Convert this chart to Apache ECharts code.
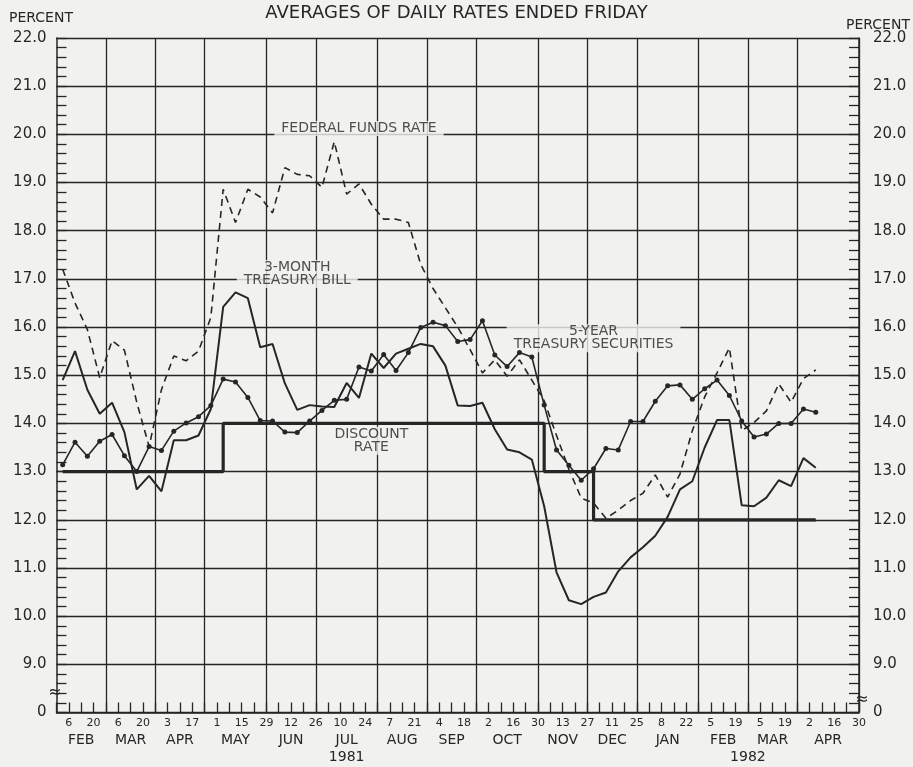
<!DOCTYPE html>
<html>
<head>
<meta charset="utf-8">
<title>Averages of daily rates ended Friday</title>
<script src="https://cdn.jsdelivr.net/npm/echarts@6/dist/echarts.min.js"></script>
<style>
html,body{margin:0;padding:0;background:#f1f1ef;}
#chart{width:913px;height:767px;}
</style>
</head>
<body>
<div id="chart"></div>
<script>
// one slot per week, named by the Friday that ends it
var weeks = [
    '1981-02-06','1981-02-13','1981-02-20','1981-02-27',
    '1981-03-06','1981-03-13','1981-03-20','1981-03-27',
    '1981-04-03','1981-04-10','1981-04-17','1981-04-24',
    '1981-05-01','1981-05-08','1981-05-15','1981-05-22','1981-05-29',
    '1981-06-05','1981-06-12','1981-06-19','1981-06-26',
    '1981-07-03','1981-07-10','1981-07-17','1981-07-24','1981-07-31',
    '1981-08-07','1981-08-14','1981-08-21','1981-08-28',
    '1981-09-04','1981-09-11','1981-09-18','1981-09-25',
    '1981-10-02','1981-10-09','1981-10-16','1981-10-23','1981-10-30',
    '1981-11-06','1981-11-13','1981-11-20','1981-11-27',
    '1981-12-04','1981-12-11','1981-12-18','1981-12-25',
    '1982-01-01','1982-01-08','1982-01-15','1982-01-22','1982-01-29',
    '1982-02-05','1982-02-12','1982-02-19','1982-02-26',
    '1982-03-05','1982-03-12','1982-03-19','1982-03-26',
    '1982-04-02','1982-04-09','1982-04-16','1982-04-23','1982-04-30'
];
// tick marks sit on the Fridays between the weekly slots
var fridays = ['1981-01-30'].concat(weeks);

var fedFunds = [17.2, 16.5, 15.95, 14.95, 15.72, 15.52, 14.44, 13.52, 14.7, 15.4,
    15.3, 15.5, 16.2, 18.86, 18.17, 18.86, 18.7, 18.37, 19.31, 19.17,
    19.14, 18.9, 19.85, 18.76, 18.97, 18.55, 18.24, 18.24, 18.17, 17.3,
    16.8, 16.4, 16.0, 15.53, 15.05, 15.32, 14.98, 15.32, 14.9, 14.47,
    13.75, 13.05, 12.45, 12.35, 12.03, 12.2, 12.4, 12.55, 12.93, 12.47,
    12.95, 13.85, 14.55, 15.05, 15.57, 13.85, 14.02, 14.26, 14.82, 14.44,
    14.93, 15.11];
var billRate = [14.9, 15.5, 14.7, 14.2, 14.43, 13.82, 12.63, 12.91, 12.59, 13.65,
    13.65, 13.75, 14.3, 16.42, 16.72, 16.6, 15.58, 15.65, 14.83, 14.28,
    14.38, 14.35, 14.34, 14.84, 14.53, 15.45, 15.15, 15.45, 15.55, 15.65,
    15.6, 15.2, 14.37, 14.36, 14.43, 13.88, 13.46, 13.4, 13.25, 12.28,
    10.91, 10.33, 10.25, 10.4, 10.49, 10.93, 11.22, 11.43, 11.67, 12.06,
    12.63, 12.8, 13.5, 14.07, 14.07, 12.3, 12.28, 12.46, 12.82, 12.7,
    13.28, 13.08];
var fiveYear = [13.14, 13.61, 13.32, 13.63, 13.77, 13.33, 13.0, 13.52, 13.44, 13.84,
    14.01, 14.14, 14.37, 14.92, 14.86, 14.54, 14.06, 14.05, 13.82, 13.81,
    14.05, 14.27, 14.48, 14.5, 15.17, 15.09, 15.43, 15.1, 15.47, 15.99,
    16.1, 16.03, 15.7, 15.74, 16.13, 15.42, 15.18, 15.47, 15.38, 14.38,
    13.45, 13.13, 12.82, 13.06, 13.48, 13.45, 14.04, 14.04, 14.46, 14.78,
    14.8, 14.5, 14.72, 14.9, 14.58, 14.05, 13.72, 13.78, 14.0, 14.0,
    14.3, 14.23];
var discountRate = [13, 13, 13, 13, 13, 13, 13, 13, 13, 13,
    13, 13, 13, 14, 14, 14, 14, 14, 14, 14,
    14, 14, 14, 14, 14, 14, 14, 14, 14, 14,
    14, 14, 14, 14, 14, 14, 14, 14, 14, 13,
    13, 13, 13, 12, 12, 12, 12, 12, 12, 12,
    12, 12, 12, 12, 12, 12, 12, 12, 12, 12,
    12, 12];

var monthNames = ['JAN','FEB','MAR','APR','MAY','JUN','JUL','AUG','SEP','OCT','NOV','DEC'];
// year under the middle of July 1981, and on the Feb/Mar 1982 line
var year1981 = '1981-07-17';
var year1982 = '1982-03-05';

// text notes: [text, week slot, percent]
var notes = [
    ['FEDERAL FUNDS RATE', 24, 20.12],
    ['3-MONTH\nTREASURY BILL', 19, 17.1],
    ['DISCOUNT\nRATE', 25, 13.64],
    ['5-YEAR\nTREASURY SECURITIES', 43, 15.77]
];

var ink = '#262626';
var paper = '#f1f1ef';
var font = 'DejaVu Sans';

function monthOf(d) { return d.slice(0, 7); }

// month names sit centred between the month gridlines:
// 4-week months on a Friday tick, 5-week months on the middle week
var tickLabels = {}, weekLabels = {};
var start = 0;
for (var i = 1; i <= weeks.length; i++) {
    if (i === weeks.length || monthOf(weeks[i]) !== monthOf(weeks[start])) {
        var n = i - start;
        var name = monthNames[+weeks[start].slice(5, 7) - 1];
        if (n % 2) weekLabels[start + (n - 1) / 2] = name;
        else tickLabels[start + n / 2] = name;
        start = i;
    }
}

function rateLabel(v) {
    return v === 8 ? '0' : v.toFixed(1);
}

function labelAxis(data, gap, offset, show, text, size) {
    return {
        type: 'category',
        data: data,
        boundaryGap: gap,
        position: 'bottom',
        offset: offset,
        axisLine: {show: false, onZero: false},
        axisTick: {show: false},
        splitLine: {show: false},
        axisLabel: {
            interval: show,
            formatter: text,
            hideOverlap: false,
            margin: 5,
            fontFamily: font,
            fontSize: size,
            color: ink
        }
    };
}

function rateAxis(side, margin) {
    return {
        type: 'value',
        position: side,
        min: 8,
        max: 22,
        interval: 1,
        axisLine: {show: true, lineStyle: {color: ink, width: 1.5}},
        axisTick: {show: true, inside: true, length: 10, lineStyle: {color: ink, width: 1.3}},
        minorTick: {show: true, splitNumber: 5, length: 10, lineStyle: {color: ink, width: 1.3}},
        splitLine: {show: side === 'left', lineStyle: {color: ink, width: 1.3}},
        axisLabel: {
            formatter: rateLabel,
            margin: margin,
            showMinLabel: true,
            showMaxLabel: true,
            fontFamily: font,
            fontSize: 15,
            color: ink
        }
    };
}

var option = {
    backgroundColor: paper,
    animation: false,
    textStyle: {fontFamily: font, color: ink},
    title: [
        {text: 'AVERAGES OF DAILY RATES ENDED FRIDAY', left: 'center', top: 4, padding: 0,
            textStyle: {fontFamily: font, fontSize: 18, fontWeight: 'normal', color: ink}},
        {text: 'PERCENT', left: 9, top: 11, padding: 0,
            textStyle: {fontFamily: font, fontSize: 14, fontWeight: 'normal', color: ink}},
        {text: 'PERCENT', left: 846, top: 18, padding: 0,
            textStyle: {fontFamily: font, fontSize: 14, fontWeight: 'normal', color: ink}}
    ],
    grid: {left: 56.5, right: 54, top: 38, bottom: 54.5, outerBoundsMode: 'none'},
    xAxis: [
        {
            type: 'category',
            data: weeks,
            boundaryGap: true,
            position: 'bottom',
            axisLine: {show: true, onZero: false, lineStyle: {color: ink, width: 1.5}},
            axisTick: {show: true, inside: true, length: 10, interval: 0, lineStyle: {color: ink, width: 1.3}},
            axisLabel: {show: false},
            splitLine: {
                show: true,
                interval: function (i) {
                    return i > 0 && i < weeks.length && monthOf(weeks[i]) !== monthOf(weeks[i - 1]);
                },
                lineStyle: {color: ink, width: 1.3}
            }
        },
        // day of month under every other Friday tick
        labelAxis(fridays, false, 0,
            function (i) { return i % 2 === 1; },
            function (v) { return String(+v.slice(8)); }, 11),
        // month names
        labelAxis(fridays, false, 16,
            function (i) { return tickLabels[i] !== undefined; },
            function (v, i) { return tickLabels[i]; }, 14),
        labelAxis(weeks, true, 16,
            function (i) { return weekLabels[i] !== undefined; },
            function (v, i) { return weekLabels[i]; }, 14),
        // years
        labelAxis(weeks, true, 33,
            function (i) { return weeks[i] === year1981; },
            function (v) { return v.slice(0, 4); }, 14),
        labelAxis(fridays, false, 33,
            function (i) { return weeks[i] === year1982; },
            function (v, i) { return weeks[i].slice(0, 4); }, 14)
    ],
    yAxis: [rateAxis('left', 10), rateAxis('right', 14)],
    graphic: [
        {type: 'text', x: 55, y: 693, style: {text: '≈', font: '16px DejaVu Sans', fill: ink, align: 'center', verticalAlign: 'middle'}},
        {type: 'text', x: 862, y: 700, style: {text: '≈', font: '16px DejaVu Sans', fill: ink, align: 'center', verticalAlign: 'middle'}}
    ],
    series: [
        {
            name: 'notes',
            type: 'scatter',
            z: 1,
            symbol: 'rect',
            symbolSize: 0.1,
            itemStyle: {color: 'rgba(0,0,0,0)'},
            silent: true,
            data: notes.map(function (d) {
                return {value: [d[1], d[2]], label: {formatter: d[0]}};
            }),
            label: {
                show: true,
                position: 'inside',
                fontFamily: font,
                fontSize: 14,
                lineHeight: 13,
                color: ink,
                backgroundColor: paper,
                padding: [1, 7]
            }
        },
        {
            name: 'Federal funds rate',
            type: 'line',
            z: 3,
            data: fedFunds,
            symbol: 'none',
            lineStyle: {color: ink, width: 1.6, type: [7, 5]}
        },
        {
            name: '3-month Treasury bill',
            type: 'line',
            z: 3,
            data: billRate,
            symbol: 'none',
            lineStyle: {color: ink, width: 2}
        },
        {
            name: '5-year Treasury securities',
            type: 'line',
            z: 3,
            data: fiveYear,
            symbol: 'circle',
            symbolSize: 5,
            showSymbol: true,
            showAllSymbol: true,
            itemStyle: {color: ink},
            lineStyle: {color: ink, width: 1.6}
        },
        {
            name: 'Discount rate',
            type: 'line',
            z: 3,
            step: 'end',
            data: discountRate,
            symbol: 'none',
            lineStyle: {color: ink, width: 3.2}
        }
    ]
};

window.onload = function () {
    echarts.init(document.getElementById('chart')).setOption(option);
};
</script>
</body>
</html>
